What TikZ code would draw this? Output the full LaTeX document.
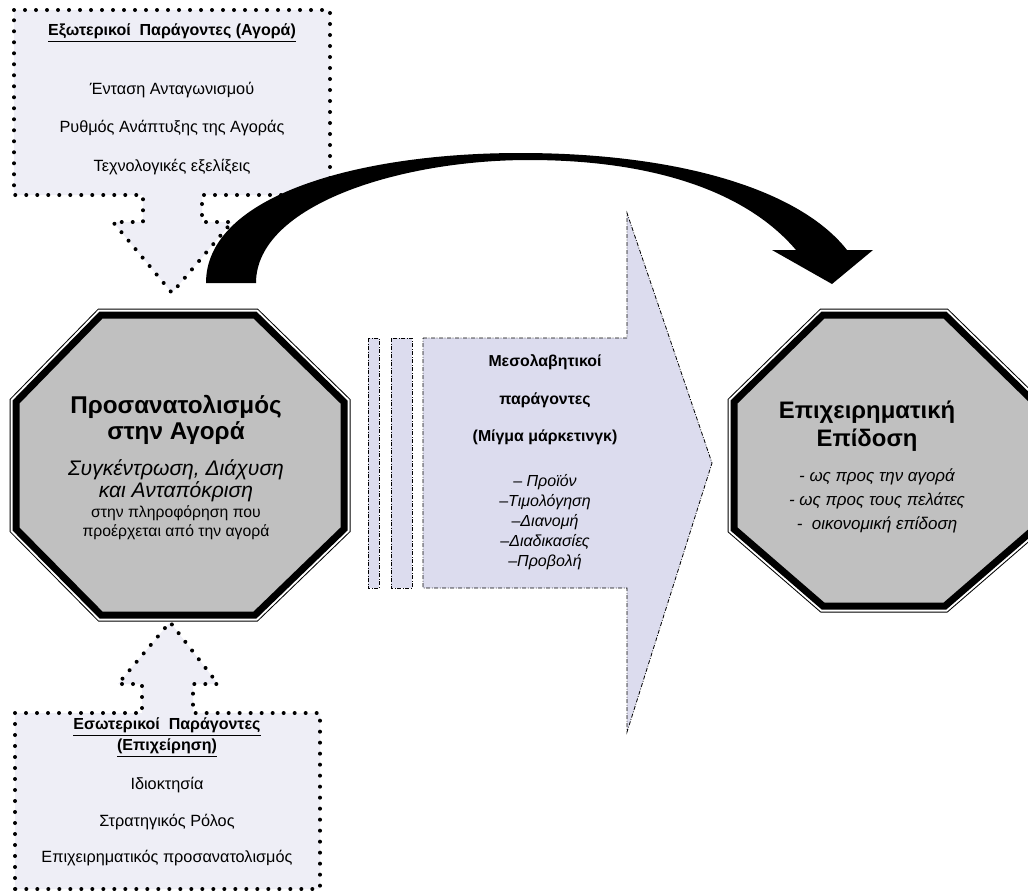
\documentclass[tikz,border=0pt]{standalone}
\usepackage{fontspec}
\setmainfont{Liberation Sans}
\usetikzlibrary{calc}

\definecolor{calloutfill}{HTML}{EEEEF6}
\definecolor{mixfill}{HTML}{DCDCEE}
\definecolor{octfill}{HTML}{C0C0C0}

% double framed octagon: thin outer line, white gap, thick inner band
\newcommand{\doubleoct}[1]{%
  \draw[line width=9.75pt] #1;
  \draw[white,line width=8.25pt] #1;
  \fill[octfill] #1;
  \draw[line width=5.25pt] #1;
}

\begin{document}
\begin{tikzpicture}[x=0.75pt,y=-0.75pt,
  dotborder/.style={line width=3pt,dash pattern=on 0pt off 8.25pt,line cap=round,fill=calloutfill},
  dashdotborder/.style={line width=0.6pt,dash pattern=on 3pt off 1.2pt on 0.6pt off 1.2pt,fill=mixfill},
  boxtitle/.style={font=\bfseries\fontsize{12}{14}\selectfont,align=center},
  boxitem/.style={font=\fontsize{12.2}{14}\selectfont}]

\useasboundingbox (0,0) rectangle (1028,890);

% External factors callout
\draw[dotborder] (14,10) -- (330,10) -- (330,195) -- (202,195) -- (202,222) -- (232,222)
  -- (172,293) -- (113,222) -- (143,222) -- (143,195) -- (14,195) -- cycle;

% Internal factors callout
\draw[dotborder] (15,889) -- (15,713) -- (142,713) -- (142,684) -- (118,684) -- (170,622)
  -- (218,684) -- (193,684) -- (193,713) -- (320,713) -- (320,889) -- cycle;

% Mediating factors block arrow
\draw[dashdotborder] (368,338) rectangle (379,588);
\draw[dashdotborder] (391,338) rectangle (412,588);
\draw[dashdotborder] (423,338) -- (627,338) -- (627,213) -- (712,463) -- (627,732)
  -- (627,588) -- (423,588) -- cycle;

% Octagons
\doubleoct{(101,315) -- (255,315) -- (344,402) -- (344,529) -- (255,615) -- (101,615) -- (16,529) -- (16,402) -- cycle}
\doubleoct{(823,315) -- (945,315) -- (1034,402) -- (1034,529) -- (945,606) -- (823,606) -- (734,529) -- (734,402) -- cycle}

% Curved arrow
\fill (206,283) .. controls (206,195) and (360,153) .. (520,153)
  .. controls (680,153) and (800,190) .. (847,250) -- (873,250) -- (832,284) -- (772,250)
  -- (796,250) .. controls (745,190) and (650,160) .. (529,160)
  .. controls (400,160) and (256,205) .. (256,283) -- cycle;

% External factors text
\node[boxtitle] (exttitle) at (172,33) {\underline{Εξωτερικοί\ \ Παράγοντες (Αγορά)}};
\foreach \txt/\ypos [count=\i] in {Ένταση Ανταγωνισμού/90, Ρυθμός Ανάπτυξης της Αγοράς/128, Τεχνολογικές εξελίξεις/167}
{
\node[boxitem] (ext\i) at (172,\ypos) {\txt};
}

% Internal factors text
\node[boxtitle] (inttitle1) at (167,727) {\underline{Εσωτερικοί\ \ Παράγοντες}};
\node[boxtitle] (inttitle2) at (167,748) {\underline{(Επιχείρηση)}};
\foreach \txt/\ypos [count=\i] in {Ιδιοκτησία/785, Στρατηγικός Ρόλος/822, Επιχειρηματικός προσανατολισμός/858}
{
\node[boxitem] (int\i) at (167,\ypos) {\txt};
}

% Market orientation text
\node[font=\bfseries\fontsize{18.2}{19.5}\selectfont,align=center] (orienttitle) at (176,420) {Προσανατολισμός\\στην Αγορά};
\node[font=\itshape\fontsize{15.8}{16.5}\selectfont,align=center] (orientsub) at (176,481) {Συγκέντρωση, Διάχυση\\και Ανταπόκριση};
\node[font=\fontsize{11.8}{14.25}\selectfont,align=center] (orientnote) at (176,522.5) {στην πληροφόρηση που\\προέρχεται από την αγορά};

% Mediating factors text
\node[font=\bfseries\fontsize{11.9}{28}\selectfont,align=center] (mixtitle) at (545,400) {Μεσολαβητικοί\\παράγοντες\\(Μίγμα μάρκετινγκ)};
\node[font=\fontsize{12}{15}\selectfont,align=center] (mixitems) at (545,522) {– \textit{Προϊόν}\\–\textit{Τιμολόγηση}\\–\textit{Διανομή}\\–\textit{Διαδικασίες}\\–\textit{Προβολή}};

% Business performance text
\node[font=\bfseries\fontsize{17.9}{21}\selectfont,align=center] (perftitle) at (867,426) {Επιχειρηματική\\Επίδοση};
\node[font=\itshape\fontsize{12.7}{18}\selectfont,align=center] (perfitems) at (877,501) {- ως προς την αγορά\\- ως προς τους πελάτες\\-\ \ οικονομική επίδοση};

\end{tikzpicture}
\end{document}
